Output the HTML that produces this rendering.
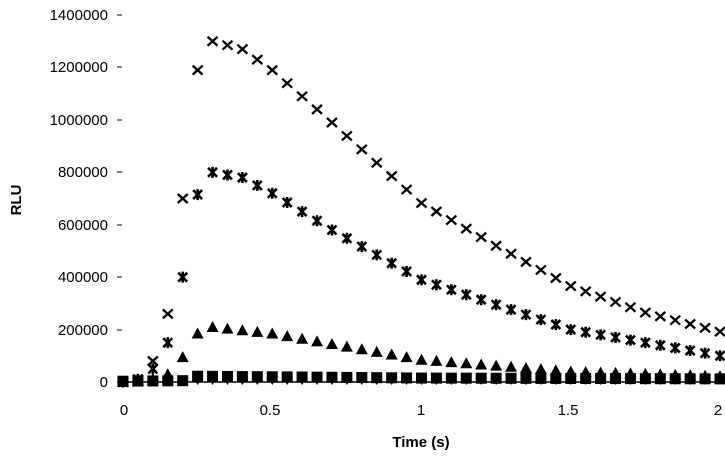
<!DOCTYPE html>
<html><head><meta charset="utf-8"><style>
body{margin:0;background:#fff}
svg{display:block;font-family:"Liberation Sans",sans-serif}
</style></head><body>
<svg id="s" width="725" height="456" xmlns="http://www.w3.org/2000/svg">
<line x1="118" y1="382" x2="725" y2="382" stroke="#000" stroke-width="1.5"/>
<g font-size="15" text-anchor="end" fill="#000">
<text x="108" y="387">0</text>
<text x="108" y="335">200000</text>
<text x="108" y="282">400000</text>
<text x="108" y="230">600000</text>
<text x="108" y="177">800000</text>
<text x="108" y="125">1000000</text>
<text x="108" y="72">1200000</text>
<text x="108" y="20">1400000</text>
</g>
<g stroke="#000" stroke-width="1">
<line x1="117" y1="382" x2="122" y2="382"/><line x1="117" y1="330" x2="122" y2="330"/>
<line x1="117" y1="277" x2="122" y2="277"/><line x1="117" y1="225" x2="122" y2="225"/>
<line x1="117" y1="172" x2="122" y2="172"/><line x1="117" y1="120" x2="122" y2="120"/>
<line x1="117" y1="67" x2="122" y2="67"/><line x1="117" y1="15" x2="122" y2="15"/>
</g>
<g font-size="15" text-anchor="middle">
<text x="124" y="415">0</text><text x="270" y="415">0.5</text>
<text x="421" y="415">1</text><text x="568" y="415">1.5</text><text x="718" y="415">2</text>
</g>
<text x="421" y="447" font-size="15" font-weight="bold" text-anchor="middle">Time (s)</text>
<text transform="translate(21,200) rotate(-90)" font-size="15" font-weight="bold" text-anchor="middle">RLU</text>
<g id="pts"></g>
</svg>
<script>
function interp(k,t){if(t<=k[0][0])return k[0][1];for(var i=1;i<k.length;i++){if(t<=k[i][0]){var a=k[i-1],b=k[i];return a[1]+(b[1]-a[1])*(t-a[0])/(b[0]-a[0]);}}return k[k.length-1][1];}
var X=t=>123+t*298.5, Y=v=>382-v*262.1e-6;
var sX=[[0,0],[0.05,10000],[0.1,80000],[0.15,260000],[0.2,700000],[0.25,1190000],[0.3,1300000],[0.4,1270000],[0.5,1190000],[0.7,990000],[1,683000],[1.25,520000],[1.5,366000],[1.75,265000],[2,192000]];
var sS=[[0,0],[0.05,10000],[0.1,50000],[0.15,150000],[0.2,400000],[0.25,715000],[0.3,800000],[0.4,780000],[0.5,720000],[0.7,580000],[1,390000],[1.5,200000],[2,100000]];
var sT=[[0,0],[0.1,10000],[0.15,30000],[0.2,95000],[0.25,185000],[0.3,210000],[0.5,185000],[1,85000],[1.5,40000],[2,22000]];
var sQ=[[0,3000],[0.2,5000],[0.25,22000],[0.5,20000],[1,15000],[2,12000]];
var h='';
for(var i=0;i<=40;i++){var t=i*0.05,x=X(t);
 var y=Y(interp(sQ,t));h+='<rect x="'+(x-5.5)+'" y="'+(y-5.5)+'" width="11" height="11"/>';
 y=Y(0)-3;h+='<path d="M'+(x-5.5)+' '+(y-3)+'h11l-5.5 9z"/>';
 y=Y(interp(sT,t));h+='<path d="M'+(x-6)+' '+(y+5)+'h12l-6-11z"/>';
 y=Y(interp(sS,t));h+='<path d="M'+(x-4.5)+' '+(y-4.5)+'l9 9M'+(x+4.5)+' '+(y-4.5)+'l-9 9M'+x+' '+(y-5.5)+'v11" stroke="#000" stroke-width="2.6" fill="none"/>';
 y=Y(interp(sX,t));h+='<path d="M'+(x-5)+' '+(y-4.5)+'l10 9M'+(x+5)+' '+(y-4.5)+'l-10 9" stroke="#000" stroke-width="2.3" fill="none"/>';
}
document.getElementById('pts').innerHTML=h;
</script>
</body></html>
